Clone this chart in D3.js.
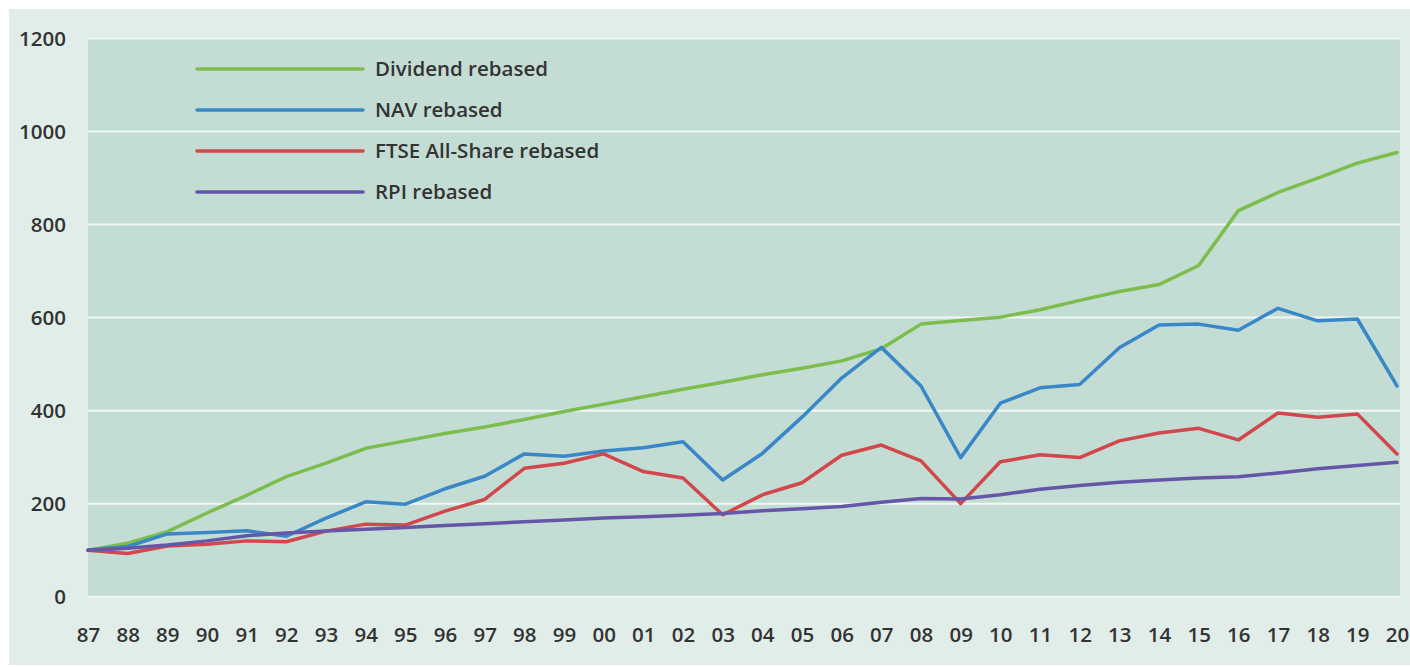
<!DOCTYPE html>
<html>
<head>
<meta charset="utf-8">
<script src="https://cdnjs.cloudflare.com/ajax/libs/d3/7.8.5/d3.min.js"></script>
<style>
  body { margin: 0; background: #fff; }
  svg { display: block; font-family: "Open Sans", "Noto Sans", sans-serif; }
</style>
</head>
<body>
<svg></svg>
<script>
const width = 1410;
const height = 667;
const margin = { top: 38.5, right: 10, bottom: 70, left: 88 };

// Year labels on the x axis
const years = ["87", "88", "89", "90", "91", "92", "93", "94", "95", "96", "97", "98", "99", "00", "01",
  "02", "03", "04", "05", "06", "07", "08", "09", "10", "11", "12", "13", "14", "15", "16", "17",
  "18", "19", "20"];

// Series values
const dividend = [100, 115, 140, 180, 218, 258, 287, 319, 335, 351, 365, 381, 398, 414, 430,
  446, 461, 477, 491, 507, 533, 586, 594, 601, 617, 637, 656, 671, 712, 830, 869, 900, 932, 955];
const nav = [100, 108, 135, 138, 142, 130, 169, 204, 199, 232, 259, 307, 302, 313, 320,
  333, 251, 308, 386, 470, 536, 453, 299, 416, 449, 456, 535, 584, 586, 573, 620, 593, 597, 453];
const ftse = [100, 93, 109, 113, 120, 118, 141, 156, 154, 184, 209, 276, 287, 307, 269,
  255, 176, 219, 245, 304, 326, 292, 200, 290, 305, 299, 335, 352, 362, 337, 395, 386, 393, 307];
const rpi = [100, 104, 111, 120, 131, 137, 141, 145, 149, 153, 157, 161, 165, 169, 172,
  175, 179, 185, 189, 194, 203, 211, 210, 219, 231, 239, 246, 251, 255, 258, 266, 275, 282, 289];

const yTicks = [0, 200, 400, 600, 800, 1000, 1200];

const seriesNames = ["Dividend rebased", "NAV rebased", "FTSE All-Share rebased", "RPI rebased"];
const colors = ["#7dbd4e", "#3a87c8", "#d2474b", "#6656a8"];

const series = [dividend, nav, ftse, rpi].map((values, i) => ({
  name: seriesNames[i],
  color: colors[i],
  values: values,
}));

const svg = d3.select("svg").attr("width", width).attr("height", height);

// Outer panel background
svg
  .append("rect")
  .attr("x", 9)
  .attr("y", 9)
  .attr("width", width - 9)
  .attr("height", 656)
  .attr("fill", "#e1ede9");

const plotBottom = 596.7;
const plotRight = 1400;

const x = d3
  .scalePoint()
  .domain(years)
  .range([margin.left, 1397]);

const y = d3
  .scaleLinear()
  .domain([0, 1200])
  .range([plotBottom, margin.top]);

// Plot area
svg
  .append("rect")
  .attr("x", margin.left)
  .attr("y", margin.top)
  .attr("width", plotRight - margin.left)
  .attr("height", plotBottom - margin.top)
  .attr("fill", "#c3ddd4");

// Horizontal gridlines
svg
  .append("g")
  .selectAll("line")
  .data(yTicks)
  .join("line")
  .attr("x1", margin.left)
  .attr("x2", plotRight)
  .attr("y1", (d) => y(d))
  .attr("y2", (d) => y(d))
  .attr("stroke", "#f2f7f5")
  .attr("stroke-width", 2);

// Y axis labels (plain numbers, no thousands separator)
const yAxis = (g) =>
  g
    .attr("transform", `translate(66,0)`)
    .call(d3.axisLeft(y).tickValues(yTicks).tickFormat(d3.format("d")).tickSize(0).tickPadding(0))
    .call((g) => g.select(".domain").remove())
    .selectAll("text")
    .attr("font-family", "'Open Sans', sans-serif")
    .style("font-size", "20.5px")
    .style("font-weight", "600")
    .attr("fill", "#333");

svg.append("g").call(yAxis);

// X axis labels
const xAxis = (g) =>
  g
    .attr("transform", `translate(0,${plotBottom})`)
    .call(d3.axisBottom(x).tickSize(0).tickPadding(31))
    .call((g) => g.select(".domain").remove())
    .selectAll("text")
    .attr("font-family", "'Open Sans', sans-serif")
    .style("font-size", "20.5px")
    .style("font-weight", "600")
    .attr("fill", "#333");

svg.append("g").call(xAxis);

// Lines
const line = d3
  .line()
  .x((d, i) => x(years[i]))
  .y((d) => y(d));

svg
  .append("g")
  .selectAll("path")
  .data(series)
  .join("path")
  .attr("d", (d) => line(d.values))
  .attr("fill", "none")
  .attr("stroke", (d) => d.color)
  .attr("stroke-width", 3.5)
  .attr("stroke-linejoin", "round")
  .attr("stroke-linecap", "round");

// Legend
const legend = svg
  .selectAll(".legend")
  .data(series)
  .join("g")
  .attr("class", "legend")
  .attr("transform", (d, i) => `translate(197,${69 + i * 41})`);

legend
  .append("line")
  .attr("x1", 0)
  .attr("x2", 166)
  .attr("stroke", (d) => d.color)
  .attr("stroke-width", 3.5)
  .attr("stroke-linecap", "round");

legend
  .append("text")
  .attr("x", 178)
  .attr("dy", "0.35em")
  .text((d) => d.name)
  .style("font-size", "20.5px")
  .style("font-weight", "600")
  .attr("fill", "#333");
</script>
</body>
</html>
